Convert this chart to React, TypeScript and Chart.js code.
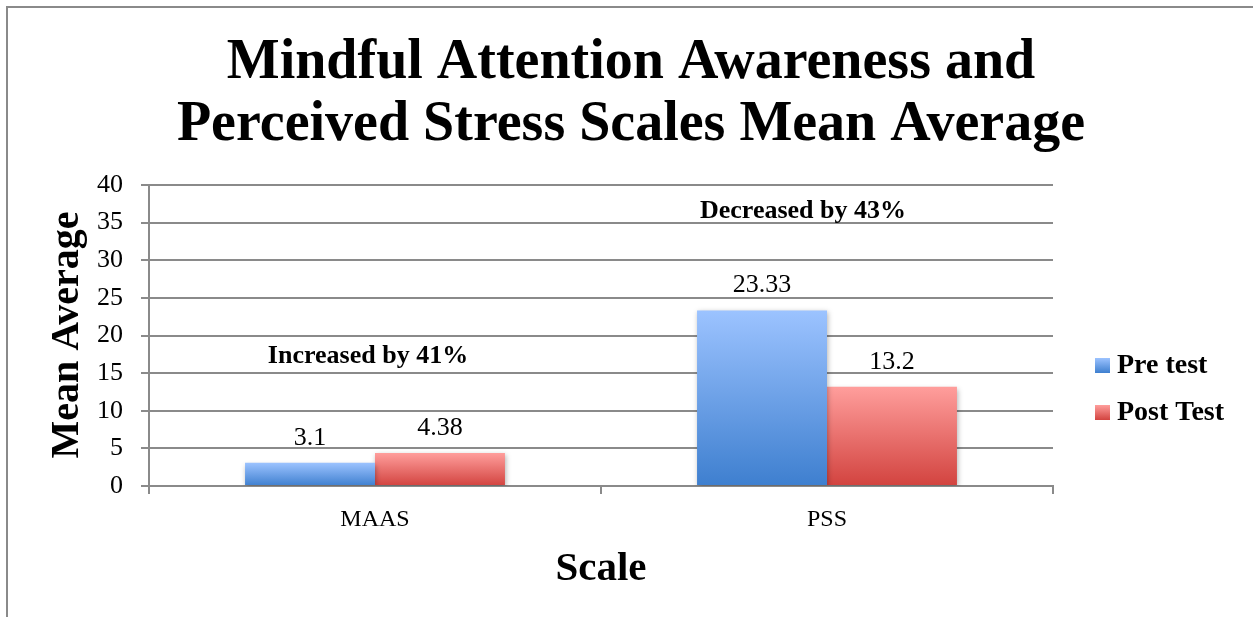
import React, { useEffect, useRef } from "react";
import { Chart, registerables } from "chart.js";

Chart.register(...registerables);

const titleLines = ["Mindful Attention Awareness and", "Perceived Stress Scales Mean Average"];
const categories = ["MAAS", "PSS"];
const seriesNames = ["Pre test", "Post Test"];
const preTest = [3.1, 23.33];
const postTest = [4.38, 13.2];
const yMin = 0;
const yMax = 40;
const yStep = 5;
const yAxisTitle = "Mean Average";
const xAxisTitle = "Scale";
const noteTexts = ["Increased by 41%", "Decreased by 43%"];

const SERIF = "'Liberation Serif', 'Times New Roman', serif";
const GRID = "#8a8a8a";
const BLUE_TOP = "#9cc3ff";
const BLUE_BOT = "#3e7fcf";
const RED_TOP = "#ff9e9c";
const RED_BOT = "#d2433f";

const gradFill = (top: string, bottom: string) => (ctx: any) => {
  const chart = ctx.chart;
  const y = chart.scales && chart.scales.y;
  if (!y || ctx.type !== "data" || !ctx.parsed) return bottom;
  const yTop = y.getPixelForValue(ctx.parsed.y);
  const yBot = y.getPixelForValue(0);
  if (!isFinite(yTop) || !isFinite(yBot)) return bottom;
  const g = chart.ctx.createLinearGradient(0, yTop, 0, yBot === yTop ? yTop + 1 : yBot);
  g.addColorStop(0, top);
  g.addColorStop(1, bottom);
  return g;
};

const decorPlugin = {
  id: "decor",
  beforeDraw(chart: any) {
    const c = chart.ctx;
    c.save();
    c.fillStyle = "#ffffff";
    c.fillRect(0, 0, chart.width, chart.height);
    c.strokeStyle = "#8a8a8a";
    c.lineWidth = 2;
    c.strokeRect(7, 7, chart.width + 20, chart.height + 20);
    c.restore();
  },
  beforeDatasetDraw(chart: any) {
    const c = chart.ctx;
    c.save();
    c.shadowColor = "rgba(0,0,0,0.30)";
    c.shadowBlur = 5;
    c.shadowOffsetX = 1;
    c.shadowOffsetY = 2;
  },
  afterDatasetDraw(chart: any) {
    chart.ctx.restore();
  },
  afterDatasetsDraw(chart: any) {
    const c = chart.ctx;
    const xs = chart.scales.x;
    const ys = chart.scales.y;
    c.save();
    c.fillStyle = "#000";
    c.font = `26px ${SERIF}`;
    c.textAlign = "center";
    c.textBaseline = "alphabetic";
    chart.data.datasets.forEach((ds: any, di: number) => {
      const meta = chart.getDatasetMeta(di);
      meta.data.forEach((el: any, i: number) => {
        c.fillText(String(ds.data[i]), el.x, el.y - 18);
      });
    });
    c.font = `bold 26px ${SERIF}`;
    const notePos = [
      { cat: 0, dx: -7, val: 16.3 },
      { cat: 1, dx: -24, val: 35.6 },
    ];
    noteTexts.forEach((t, i) => {
      const p = notePos[i];
      c.fillText(t, xs.getPixelForValue(p.cat) + p.dx, ys.getPixelForValue(p.val));
    });
    c.font = `bold 56px ${SERIF}`;
    c.fillText(titleLines[0], 631, 78);
    c.fillText(titleLines[1], 631, 140);
    c.font = `bold 41px ${SERIF}`;
    c.fillText(xAxisTitle, 601, 580);
    c.save();
    c.translate(78, 335);
    c.rotate(-Math.PI / 2);
    c.font = `bold 40px ${SERIF}`;
    c.fillText(yAxisTitle, 0, 0);
    c.restore();
    const legendColors = [
      [BLUE_TOP, BLUE_BOT],
      [RED_TOP, RED_BOT],
    ];
    c.font = `bold 28px ${SERIF}`;
    c.textAlign = "left";
    seriesNames.forEach((name, i) => {
      const by = 358 + i * 47;
      const g = c.createLinearGradient(0, by, 0, by + 15);
      g.addColorStop(0, legendColors[i][0]);
      g.addColorStop(1, legendColors[i][1]);
      c.fillStyle = g;
      c.fillRect(1095, by, 15, 15);
      c.fillStyle = "#000";
      c.fillText(name, 1117, by + 15);
    });
    c.restore();
  },
};

export default function App() {
  const ref = useRef<HTMLCanvasElement>(null);
  useEffect(() => {
    if (!ref.current) return;
    const chart = new Chart(ref.current, {
      type: "bar",
      data: {
        labels: categories,
        datasets: [
          {
            label: seriesNames[0],
            data: preTest,
            backgroundColor: gradFill(BLUE_TOP, BLUE_BOT),
            borderWidth: 0,
            categoryPercentage: 0.575,
            barPercentage: 1.0,
          },
          {
            label: seriesNames[1],
            data: postTest,
            backgroundColor: gradFill(RED_TOP, RED_BOT),
            borderWidth: 0,
            categoryPercentage: 0.575,
            barPercentage: 1.0,
          },
        ],
      },
      options: {
        responsive: false,
        animation: false,
        devicePixelRatio: 1,
        layout: { padding: { left: 0, top: 185, right: 200, bottom: 91 } },
        plugins: {
          legend: { display: false },
          title: { display: false },
          tooltip: { enabled: false },
        },
        scales: {
          x: {
            afterFit: (s: any) => {
              s.height = 40;
            },
            grid: {
              offset: true,
              drawOnChartArea: false,
              drawTicks: true,
              tickLength: 8,
              color: GRID,
              lineWidth: 2,
            },
            border: { display: true, color: GRID, width: 2 },
            ticks: {
              color: "#000",
              font: { family: SERIF, size: 24 },
              padding: 11,
            },
          },
          y: {
            min: yMin,
            max: yMax,
            afterFit: (s: any) => {
              s.width = 149;
            },
            grid: {
              color: GRID,
              lineWidth: 2,
              drawTicks: true,
              tickLength: 8,
            },
            border: { display: true, color: GRID, width: 2 },
            ticks: {
              stepSize: yStep,
              color: "#000",
              font: { family: SERIF, size: 26 },
              padding: 18,
            },
          },
        },
      },
      plugins: [decorPlugin],
    });
    return () => chart.destroy();
  }, []);
  return (
    <div style={{ position: "fixed", left: 0, top: 0, width: 1253, height: 617, background: "#fff" }}>
      <canvas ref={ref} width={1253} height={617} style={{ display: "block" }} />
    </div>
  );
}
